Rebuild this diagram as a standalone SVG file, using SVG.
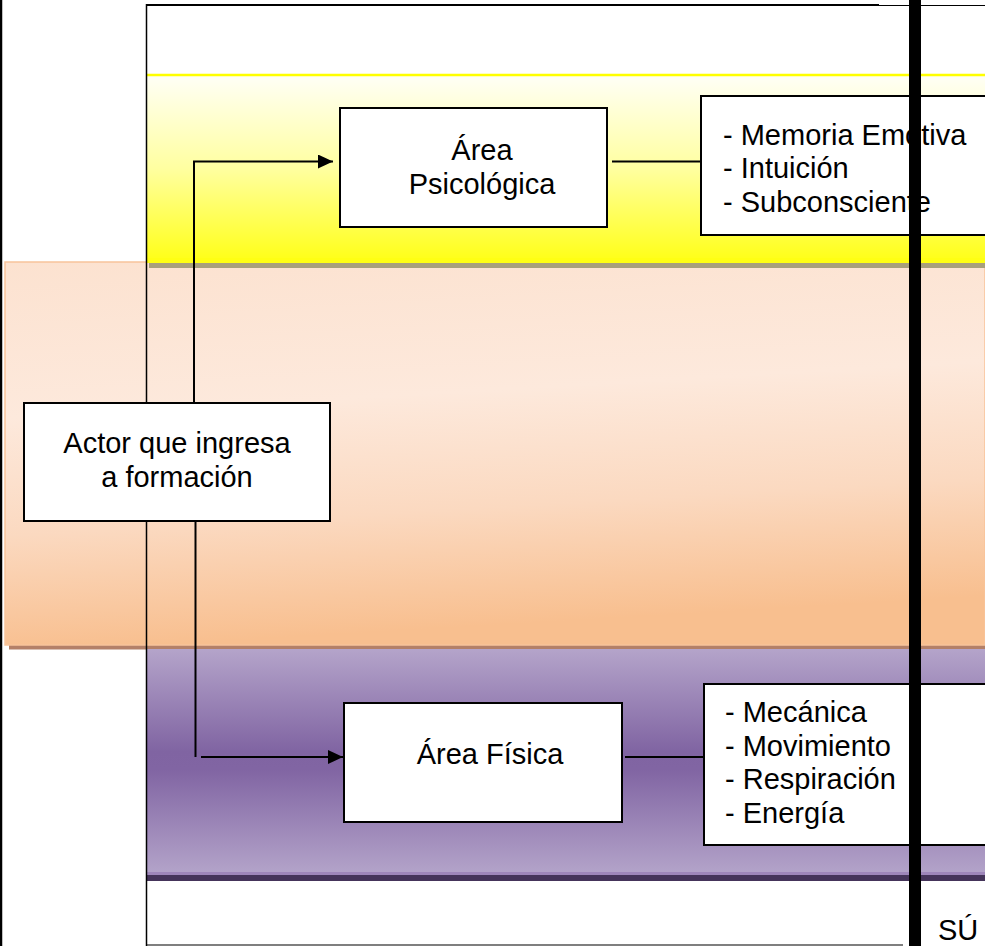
<svg xmlns="http://www.w3.org/2000/svg" width="985" height="946" viewBox="0 0 985 946">
<defs>
<linearGradient id="gY" x1="0" y1="0" x2="0" y2="1">
<stop offset="0" stop-color="#fffff8"/>
<stop offset="0.5" stop-color="#ffffa0"/>
<stop offset="1" stop-color="#ffff14"/>
</linearGradient>
<linearGradient id="gO" x1="0" y1="0" x2="0.15" y2="1">
<stop offset="0" stop-color="#fce2d0"/>
<stop offset="0.4" stop-color="#fde9dc"/>
<stop offset="0.7" stop-color="#fbd9c0"/>
<stop offset="1" stop-color="#f8bf8f"/>
</linearGradient>
<linearGradient id="gP" x1="0" y1="0" x2="0" y2="1">
<stop offset="0" stop-color="#b4a4ca"/>
<stop offset="0.46" stop-color="#8064a2"/>
<stop offset="0.54" stop-color="#8165a3"/>
<stop offset="1" stop-color="#b3a3c9"/>
</linearGradient>
<marker id="arr" markerWidth="16" markerHeight="14" refX="15" refY="7" orient="auto" markerUnits="userSpaceOnUse">
<path d="M0,0 L15,7 L0,14 Z" fill="#000"/>
</marker>
<style>
.box{fill:#fff;stroke:#000;stroke-width:2}
.t{font-family:"Liberation Sans",Arial,sans-serif;font-size:29px;fill:#000}
.c{text-anchor:middle}
.ln{stroke:#000;stroke-width:2;fill:none}
</style>
</defs>

<g id="bands">
<!-- yellow band -->
<rect x="147" y="74" width="838" height="189" fill="url(#gY)"/>
<rect x="149" y="263" width="836" height="5" fill="#a8a07c"/>
<line x1="147" y1="75" x2="985" y2="75" stroke="#ffff00" stroke-width="2.5"/>
<!-- orange band -->
<rect x="9" y="645" width="976" height="4.5" fill="#b48068"/>
<rect x="5" y="262" width="980" height="383" fill="url(#gO)" stroke="#f8c39a" stroke-width="1.5"/>
<rect x="149" y="262" width="836" height="6" fill="#a8a07c"/>
<rect x="147" y="258" width="838" height="5" fill="#ffff14"/>
<!-- purple band -->
<rect x="146" y="649" width="839" height="224" fill="url(#gP)"/>
<rect x="146" y="872" width="839" height="3" fill="#9e86ba"/>
<rect x="147" y="875" width="838" height="6" fill="#45345a"/>
</g>

<g id="frame">
<line x1="1" y1="0" x2="1" y2="946" stroke="#000" stroke-width="2.5"/>
<line x1="146" y1="5" x2="879" y2="5" stroke="#000" stroke-width="2"/>
<line x1="879" y1="5.5" x2="985" y2="5.5" stroke="#000" stroke-width="1.2"/>
<line x1="146.5" y1="4" x2="146.5" y2="946" stroke="#000" stroke-width="1.5"/>
<line x1="146" y1="945" x2="903" y2="945" stroke="#000" stroke-width="1.2"/>
</g>

<g id="connectors">
<polyline class="ln" points="194,403 194,161.5 333,161.5" marker-end="url(#arr)"/>
<line class="ln" x1="195.5" y1="516" x2="195.5" y2="757"/>
<line class="ln" x1="201" y1="757" x2="343" y2="757" marker-end="url(#arr)"/>
<line class="ln" x1="612" y1="161.5" x2="701" y2="161.5"/>
<line class="ln" x1="625" y1="757" x2="704" y2="757"/>
</g>

<g id="actor">
<rect class="box" x="24" y="403" width="306" height="118"/>
<text class="t c" x="177" y="453">Actor que ingresa</text>
<text class="t c" x="177" y="487">a formación</text>
</g>

<g id="psico">
<rect class="box" x="340" y="108" width="267" height="119"/>
<text class="t c" x="482" y="160">Área</text>
<text class="t c" x="482" y="194">Psicológica</text>
</g>

<g id="psico-list">
<rect class="box" x="701" y="96" width="295" height="139"/>
<text class="t" x="723" y="145">- Memoria Emotiva</text>
<text class="t" x="723" y="178">- Intuición</text>
<text class="t" x="723" y="212">- Subconsciente</text>
</g>

<g id="fisica">
<rect class="box" x="344" y="703" width="278" height="119"/>
<text class="t c" x="490" y="764">Área Física</text>
</g>

<g id="fisica-list">
<rect class="box" x="704" y="684" width="295" height="161"/>
<text class="t" x="725" y="722">- Mecánica</text>
<text class="t" x="725" y="756">- Movimiento</text>
<text class="t" x="725" y="789">- Respiración</text>
<text class="t" x="725" y="823">- Energía</text>
</g>

<g id="bar">
<rect x="909" y="0" width="12" height="946" fill="#000"/>
</g>

<g id="footer">
<text class="t" x="938" y="940">SÚ</text>
</g>
</svg>
